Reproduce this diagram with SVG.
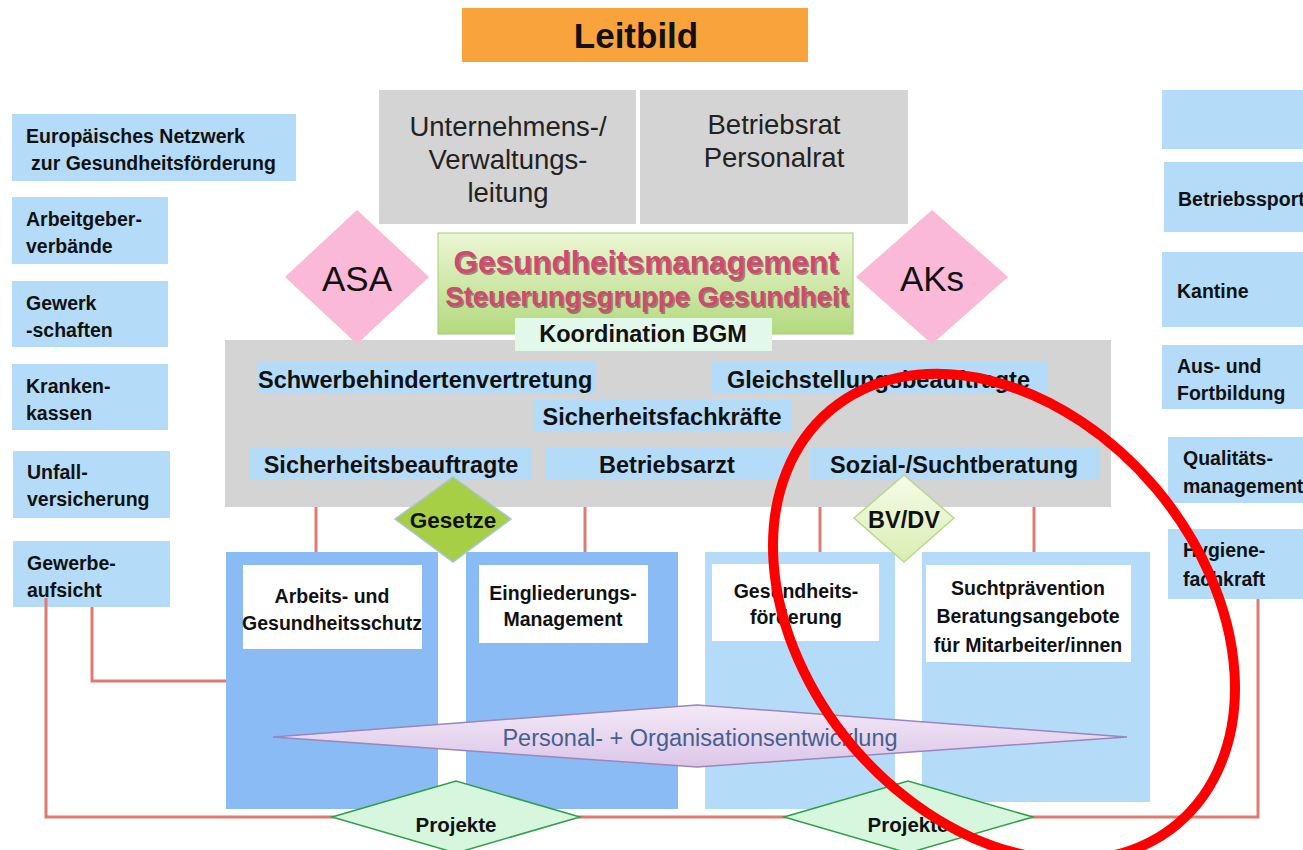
<svg xmlns="http://www.w3.org/2000/svg" width="1303" height="850" viewBox="0 0 1303 850">
<defs>
<linearGradient id="gGreen" x1="0" y1="0" x2="0" y2="1"><stop offset="0" stop-color="#ECF7D4"/><stop offset="1" stop-color="#B3D97E"/></linearGradient>
<linearGradient id="gBV" x1="0" y1="0" x2="0" y2="1"><stop offset="0" stop-color="#F6FBE8"/><stop offset="1" stop-color="#D9EEB2"/></linearGradient>
<linearGradient id="gPE" x1="0" y1="0" x2="0" y2="1"><stop offset="0" stop-color="#F3E9F7"/><stop offset="1" stop-color="#DCC6E8"/></linearGradient>
<style>
text{font-family:"Liberation Sans",Arial,sans-serif;fill:#111}
.lb{fill:#B4DCF9}
.gr{fill:#D4D4D4}
.col1{fill:#8BBBF5}
.col2{fill:#B4DCF9}
.wh{fill:#FFFFFF}
.s{font-size:19.5px;font-weight:bold}
.m{font-size:23.5px;font-weight:bold}
.c{text-anchor:middle}
.big{font-size:27.5px;fill:#222}
.dia{font-size:35px;fill:#111}
.pink{fill:#F9B9D7}
.con{fill:none;stroke:#E07B73;stroke-width:3}
.proj{fill:#D6F6DE;stroke:#2E9E4A;stroke-width:1.5}
</style>
</defs>

<g id="leitbild">
<rect x="462" y="8" width="346" height="54" fill="#F9A33C"/>
<text x="636" y="48" class="c" style="font-size:35px;font-weight:bold">Leitbild</text>
</g>

<g id="unternehmen">
<rect x="379" y="90" width="257" height="134" class="gr"/>
<text class="c big" x="508"><tspan x="508" y="136">Unternehmens-/</tspan><tspan x="508" y="169">Verwaltungs-</tspan><tspan x="508" y="202">leitung</tspan></text>
</g>
<g id="betriebsrat">
<rect x="640" y="90" width="268" height="134" class="gr"/>
<text class="c big" x="774"><tspan x="774" y="134">Betriebsrat</tspan><tspan x="774" y="167">Personalrat</tspan></text>
</g>

<g id="links">
<g id="europa"><rect x="12" y="114" width="284" height="67" class="lb"/><text class="s"><tspan x="26" y="143">Europäisches Netzwerk</tspan><tspan x="31" y="170">zur Gesundheitsförderung</tspan></text></g>
<g id="arbeitgeber"><rect x="12" y="197" width="156" height="67" class="lb"/><text class="s"><tspan x="26" y="226">Arbeitgeber-</tspan><tspan x="26" y="253">verbände</tspan></text></g>
<g id="gewerkschaften"><rect x="12" y="281" width="156" height="66" class="lb"/><text class="s"><tspan x="26" y="310">Gewerk</tspan><tspan x="26" y="337">-schaften</tspan></text></g>
<g id="krankenkassen"><rect x="12" y="364" width="156" height="66" class="lb"/><text class="s"><tspan x="26" y="393">Kranken-</tspan><tspan x="26" y="420">kassen</tspan></text></g>
<g id="unfall"><rect x="13" y="451" width="157" height="67" class="lb"/><text class="s"><tspan x="27" y="479">Unfall-</tspan><tspan x="27" y="506">versicherung</tspan></text></g>
<g id="gewerbe"><rect x="13" y="541" width="157" height="66" class="lb"/><text class="s"><tspan x="27" y="570">Gewerbe-</tspan><tspan x="27" y="597">aufsicht</tspan></text></g>
</g>

<g id="rechts">
<g id="leer"><rect x="1162" y="90" width="141" height="59" class="lb"/></g>
<g id="betriebssport"><rect x="1164" y="162" width="139" height="70" class="lb"/><text class="s" x="1178" y="206">Betriebssport</text></g>
<g id="kantine"><rect x="1162" y="252" width="141" height="75" class="lb"/><text class="s" x="1177" y="298">Kantine</text></g>
<g id="fortbildung"><rect x="1162" y="345" width="141" height="64" class="lb"/><text class="s"><tspan x="1177" y="373">Aus- und</tspan><tspan x="1177" y="400">Fortbildung</tspan></text></g>
<g id="qualitaet"><rect x="1168" y="437" width="135" height="66" class="lb"/><text class="s"><tspan x="1183" y="465">Qualitäts-</tspan><tspan x="1183" y="493">management</tspan></text></g>
<g id="hygiene"><rect x="1168" y="529" width="135" height="70" class="lb"/><text class="s"><tspan x="1183" y="557">Hygiene-</tspan><tspan x="1183" y="586">fachkraft</tspan></text></g>
</g>

<g id="connectors">
<line x1="316" y1="506" x2="316" y2="552" class="con"/>
<line x1="585" y1="506" x2="585" y2="552" class="con"/>
<line x1="820" y1="506" x2="820" y2="552" class="con"/>
<line x1="1034" y1="506" x2="1034" y2="552" class="con"/>
<polyline points="92,607 92,681 226,681" class="con"/>
<polyline points="46,598 46,817 334,817" class="con"/>
<line x1="578" y1="817" x2="786" y2="817" class="con"/>
<polyline points="1031,817 1258,817 1258,599" class="con"/>
</g>

<g id="gremium">
<rect x="225" y="340" width="886" height="167" class="gr"/>
<rect x="257" y="362" width="339" height="32" class="lb"/>
<text class="m" x="258" y="388">Schwerbehindertenvertretung</text>
<rect x="712" y="362" width="335" height="32" class="lb"/>
<text class="m" x="727" y="388">Gleichstellungsbeauftragte</text>
<rect x="533" y="400" width="259" height="32" class="lb"/>
<text class="m c" x="662" y="425">Sicherheitsfachkräfte</text>
<rect x="249" y="447" width="283" height="33" class="lb"/>
<text class="m c" x="391" y="473">Sicherheitsbeauftragte</text>
<rect x="545" y="447" width="245" height="33" class="lb"/>
<text class="m c" x="667" y="473">Betriebsarzt</text>
<rect x="810" y="447" width="290" height="33" class="lb"/>
<text class="m c" x="954" y="473">Sozial-/Suchtberatung</text>
</g>

<g id="gesundheitsmanagement">
<rect x="438" y="233" width="415" height="101" fill="url(#gGreen)" stroke="#A5C97A" stroke-width="1"/>
<text class="c" x="647.5" y="274.5" style="font-size:31.5px;font-weight:bold;fill:#6B3040;opacity:.55">Gesundheitsmanagement</text>
<text class="c" x="646" y="273" style="font-size:31.5px;font-weight:bold;fill:#D0496E">Gesundheitsmanagement</text>
<text class="c" x="648.5" y="307.5" style="font-size:27.5px;font-weight:bold;fill:#6B3040;opacity:.55">Steuerungsgruppe Gesundheit</text>
<text class="c" x="647" y="306" style="font-size:27.5px;font-weight:bold;fill:#D0496E">Steuerungsgruppe Gesundheit</text>
</g>
<g id="koordination">
<rect x="515" y="318" width="257" height="33" fill="#E2F8EA"/>
<text class="m c" x="643" y="342">Koordination BGM</text>
</g>

<g id="asa">
<polygon points="357,210 429,277 357,344 285,277" class="pink"/>
<text class="c dia" x="357" y="291">ASA</text>
</g>
<g id="aks">
<polygon points="932,210 1008,277 932,344 856,277" class="pink"/>
<text class="c dia" x="932" y="291">AKs</text>
</g>

<g id="arbeitsschutz">
<rect x="226" y="552" width="212" height="257" class="col1"/>
<rect x="243" y="565" width="179" height="84" class="wh"/>
<text class="s c"><tspan x="332" y="603">Arbeits- und</tspan><tspan x="332" y="630">Gesundheitsschutz</tspan></text>
</g>
<g id="eingliederung">
<rect x="466" y="552" width="212" height="257" class="col1"/>
<rect x="479" y="565" width="169" height="78" class="wh"/>
<text class="s c"><tspan x="563" y="600">Eingliederungs-</tspan><tspan x="563" y="626">Management</tspan></text>
</g>
<g id="gesundheitsfoerderung">
<rect x="705" y="552" width="190" height="257" class="col2"/>
<rect x="712" y="564" width="167" height="77" class="wh"/>
<text class="s c"><tspan x="796" y="598">Gesundheits-</tspan><tspan x="796" y="624">förderung</tspan></text>
</g>
<g id="suchtpraevention">
<rect x="922" y="552" width="228" height="250" class="col2"/>
<rect x="926" y="565" width="205" height="97" class="wh"/>
<text class="s c"><tspan x="1028" y="595">Suchtprävention</tspan><tspan x="1028" y="623">Beratungsangebote</tspan><tspan x="1028" y="652">für Mitarbeiter/innen</tspan></text>
</g>

<g id="gesetze">
<polygon points="453,477 511,519 453,562 395,519" fill="#A6CF46" stroke="#A9C4D8" stroke-width="1.5"/>
<text class="c" x="453" y="528" style="font-size:22.5px;font-weight:bold">Gesetze</text>
</g>
<g id="bvdv">
<polygon points="904,475 954,518 904,562 854,518" fill="url(#gBV)" stroke="#B9D88E" stroke-width="1.5"/>
<text class="c" x="904" y="528" style="font-size:23.5px;font-weight:bold">BV/DV</text>
</g>

<g id="personalentwicklung">
<polygon points="273,737 697,705 1127,737 697,767" fill="url(#gPE)" stroke="#9A86BC" stroke-width="1.5"/>
<text class="c" x="700" y="746" style="font-size:23.5px;fill:#44618E">Personal- + Organisationsentwicklung</text>
</g>

<g id="projekte1">
<polygon points="332,817 456,781 580,817 456,853" class="proj"/>
<text class="c" x="456" y="832" style="font-size:20.5px;font-weight:bold">Projekte</text>
</g>
<g id="projekte2">
<polygon points="784,817 908,781 1033,817 908,853" class="proj"/>
<text class="c" x="908" y="832" style="font-size:20.5px;font-weight:bold">Projekte</text>
</g>

<g id="markierung">
<ellipse cx="1004" cy="617" rx="270" ry="199" transform="rotate(50 1004 617)" fill="none" stroke="#FF0000" stroke-width="10"/>
</g>
</svg>
